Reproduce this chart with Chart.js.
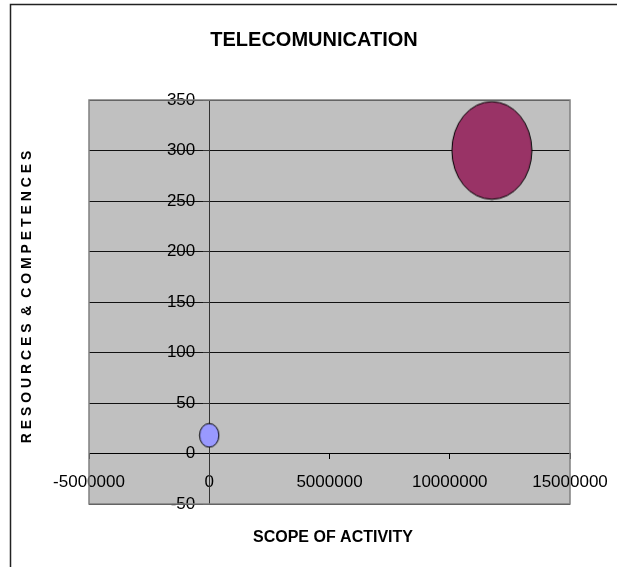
<!DOCTYPE html>
<html>
<head>
<meta charset="utf-8">
<title>TELECOMUNICATION</title>
<script src="https://cdn.jsdelivr.net/npm/chart.js@4.4.1/dist/chart.umd.min.js"></script>
<style>
  html, body { margin: 0; padding: 0; background: #fff; }
  #wrap { position: relative; width: 617px; height: 567px; }
</style>
</head>
<body>
<div id="wrap"><canvas id="bubble_chart" width="617" height="567"></canvas></div>
<script>
// scope of activity (x), resources & competences (y), bubble size
const scopeOfActivity = [0, 11750000];
const resourcesCompetences = [18, 300];
const bubbleSizes = [60, 1020];
const bubbleColors = ["#9999FF", "#993366"];

const xTickValues = [-5000000, 0, 5000000, 10000000, 15000000];
const yTickValues = [-50, 0, 50, 100, 150, 200, 250, 300, 350];

const chartTitle = "TELECOMUNICATION";
const xTitle = "SCOPE OF ACTIVITY";
const yTitle = "R E S O U R C E S  &  C O M P E T E N C E S";

const fontFamily = "'Liberation Sans', Arial, sans-serif";

// bubbles are a bit taller than wide
const maxRadius = 40;
const stretch = 1.22;
const maxSize = Math.max(...bubbleSizes);

function ellipseImage(rx, ry, fill) {
  const c = document.createElement("canvas");
  c.width = Math.ceil(rx * 2 + 2);
  c.height = Math.ceil(ry * 2 + 2);
  const g = c.getContext("2d");
  g.beginPath();
  g.ellipse(c.width / 2, c.height / 2, rx, ry, 0, 0, Math.PI * 2);
  g.fillStyle = fill;
  g.fill();
  g.lineWidth = 1;
  g.strokeStyle = "#000";
  g.stroke();
  return c;
}

const radii = bubbleSizes.map((s) => maxRadius * Math.sqrt(s / maxSize));
const ellipses = radii.map((r, i) => ellipseImage(r, r * stretch, bubbleColors[i]));

const plotFrame = {
  id: "plotFrame",
  beforeDraw(chart) {
    const { ctx, chartArea: a } = chart;

    // y labels sit left of the crossing axis, with a gap for the tick marks
    const items = chart.scales.y.getLabelItems();
    if (!items.shifted) {
      items.forEach((it) => { it.options.translation[0] -= 14; });
      items.shifted = true;
    }

    ctx.save();
    // outer chart frame
    ctx.strokeStyle = "#222";
    ctx.lineWidth = 1.5;
    ctx.beginPath();
    ctx.moveTo(10.5, 567);
    ctx.lineTo(10.5, 4.5);
    ctx.lineTo(617, 4.5);
    ctx.stroke();
    // plot area
    ctx.fillStyle = "#C0C0C0";
    ctx.fillRect(a.left, a.top, a.right - a.left, a.bottom - a.top);

    ctx.fillStyle = "#000";
    ctx.textAlign = "center";
    ctx.textBaseline = "middle";
    ctx.font = "bold 20px " + fontFamily;
    ctx.fillText(chartTitle, 314, 40);
    ctx.restore();
  },
  afterDraw(chart) {
    const { ctx, chartArea: a } = chart;
    ctx.save();
    ctx.strokeStyle = "#808080";
    ctx.lineWidth = 1.5;
    ctx.strokeRect(a.left, a.top, a.right - a.left, a.bottom - a.top);

    ctx.fillStyle = "#000";
    ctx.textAlign = "center";
    ctx.textBaseline = "middle";
    ctx.font = "bold 16px " + fontFamily;
    ctx.fillText(xTitle, 333, 538);

    ctx.translate(27, 297);
    ctx.rotate(-Math.PI / 2);
    ctx.font = "bold 14px " + fontFamily;
    ctx.fillText(yTitle, 0, 0);
    ctx.restore();
  },
};

const ctx = document.getElementById("bubble_chart");

const bubble_chart = new Chart(ctx, {
  type: "bubble",
  data: {
    datasets: [
      {
        data: scopeOfActivity.map((x, i) => ({
          x: x,
          y: resourcesCompetences[i],
          r: radii[i],
        })),
        pointStyle: (c) => ellipses[c.dataIndex],
        backgroundColor: bubbleColors,
        borderColor: "#000",
        borderWidth: 1,
      },
    ],
  },
  options: {
    responsive: false,
    animation: false,
    layout: { padding: { left: 89, right: 47, top: 100, bottom: 63 } },
    plugins: {
      legend: { display: false },
      tooltip: { enabled: false },
    },
    scales: {
      x: {
        type: "linear",
        position: { y: 0 },
        min: -5000000,
        max: 15000000,
        afterBuildTicks: (axis) => {
          axis.ticks = xTickValues.map((v) => ({ value: v }));
        },
        // end labels may hang past the plot edges
        afterFit: (axis) => {
          axis.paddingLeft = 0;
          axis.paddingRight = 0;
        },
        grid: {
          drawOnChartArea: false,
          drawTicks: true,
          tickLength: 5,
          tickColor: "#000",
        },
        border: { color: "#000", width: 1 },
        ticks: {
          color: "#000",
          font: { family: fontFamily, size: 17 },
          padding: 14,
          maxRotation: 0,
          autoSkip: false,
          callback: (v) => String(v),
        },
      },
      y: {
        type: "linear",
        position: { x: 0 },
        min: -50,
        max: 350,
        afterBuildTicks: (axis) => {
          axis.ticks = yTickValues.map((v) => ({ value: v }));
        },
        grid: {
          color: "#111",
          drawTicks: true,
          tickLength: 6,
          tickColor: "#333",
        },
        border: { color: "#333", width: 1 },
        ticks: {
          color: "#000",
          font: { family: fontFamily, size: 17 },
          autoSkip: false,
          callback: (v) => String(v),
        },
      },
    },
  },
  plugins: [plotFrame],
});
</script>
</body>
</html>
